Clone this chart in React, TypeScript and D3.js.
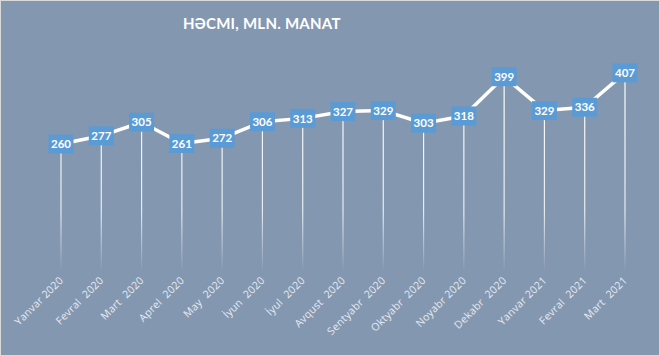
import React from "react";
import * as d3 from "d3";

const categories = [
  "Yanvar 2020", "Fevral  2020", "Mart  2020", "Aprel  2020", "May  2020",
  "İyun  2020", "İyul  2020", "Avqust  2020", "Sentyabr  2020", "Oktyabr  2020",
  "Noyabr 2020", "Dekabr  2020", "Yanvar 2021", "Fevral  2021", "Mart  2021",
];
const values = [260, 277, 305, 261, 272, 306, 313, 327, 329, 303, 318, 399, 329, 336, 407];
const title = "HƏCMI, MLN. MANAT";

const W = 660, H = 356;

export default function App() {
  const x = d3.scalePoint<string>().domain(categories).range([61, 625]);
  const y = d3.scaleLinear().domain([0, 450]).range([270, 52]);
  const line = d3.line<number>().x((_, i) => x(categories[i])!).y((d) => y(d));
  return (
    <svg width={W} height={H} style={{ position: "absolute", left: 0, top: 0 }}>
      <defs>
        <linearGradient id="drop" gradientUnits="userSpaceOnUse" x1="0" y1="70" x2="0" y2="272">
          <stop offset="0" stopColor="#ffffff" stopOpacity={1} />
          <stop offset="0.7" stopColor="#ffffff" stopOpacity={0.8} />
          <stop offset="1" stopColor="#ffffff" stopOpacity={0} />
        </linearGradient>
      </defs>
      <rect x={0.5} y={0.5} width={W - 1} height={H - 1} fill="#8497B0" stroke="#D9D9D9" />
      <text x={262} y={29} textAnchor="middle" fill="#fff" fontFamily="Lato, sans-serif"
        fontWeight={700} fontSize={15} letterSpacing={0.6} textLength={158} lengthAdjust="spacing">{title}</text>
      {values.map((v, i) => (
        <line key={"d" + i} x1={x(categories[i])} x2={x(categories[i])} y1={y(v)} y2={271}
          stroke="url(#drop)" strokeWidth={1.2} />
      ))}
      <path d={line(values)!} fill="none" stroke="#fff" strokeWidth={3.5} strokeLinejoin="round" />
      {values.map((v, i) => (
        <g key={"l" + i} transform={`translate(${x(categories[i])},${y(v)})`}>
          <rect x={-12.5} y={-9.5} width={25} height={19} fill="#5B9BD5" />
          <text y={4.2} textAnchor="middle" fill="#fff" fontFamily="Lato, sans-serif" fontWeight={700} fontSize={11.5}>{v}</text>
        </g>
      ))}
      {categories.map((c, i) => (
        <text key={"c" + i} transform={`translate(${x(c)! + 3},${281}) rotate(-45)`} textAnchor="end"
          fill="#E6EAF0" fontFamily="Open Sans, sans-serif" fontSize={10.5} letterSpacing={0.3}
          style={{ whiteSpace: "pre" }}>{c}</text>
      ))}
    </svg>
  );
}
